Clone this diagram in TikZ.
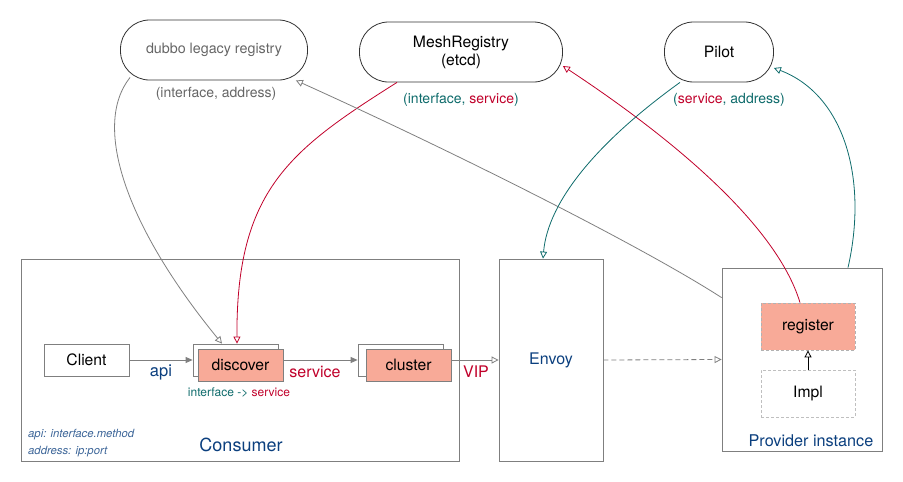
\documentclass[tikz,border=0pt]{standalone}
\usepackage{fontspec}
\setmainfont{TeX Gyre Heros}
\usetikzlibrary{arrows.meta}

\definecolor{linegray}{HTML}{7F7F7F}
\definecolor{textgray}{HTML}{666666}
\definecolor{salmon}{HTML}{F8AA98}
\definecolor{meshred}{HTML}{C0002A}
\definecolor{pilotteal}{HTML}{0E6B6B}
\definecolor{labelblue}{HTML}{0B3F7E}

\tikzset{
	registry/.style={draw=black!80, line width=0.8pt, rounded corners=29pt, minimum height=60, inner sep=0pt, align=center},
	frame/.style={draw=linegray, line width=0.8pt, inner sep=0pt},
	box/.style={draw=linegray, line width=0.8pt, fill=white, minimum width=85, minimum height=32, inner sep=0pt},
	hotbox/.style={box, fill=salmon},
	flow/.style={draw=linegray, line width=0.8pt, -{Triangle[length=7pt,width=6pt,fill=linegray]}},
	opentip/.style={line width=0.8pt, -{Triangle[open,length=7pt,width=7pt]}}
}

\begin{document}
\begin{tikzpicture}[x=1pt, y=-1pt, font=\fontsize{15.7}{18}\selectfont]
\useasboundingbox (0,0) rectangle (903,482);

\node (legacy) at (214,50) [registry, minimum width=187, font=\fontsize{14.3}{16}\selectfont, text=textgray] {dubbo legacy registry};
\node (mesh) at (461,52) [registry, minimum width=203] {MeshRegistry\\(etcd)};
\node (pilot) at (719,52) [registry, minimum width=109] {Pilot};

\node (legacykey) at (216,94) [font=\fontsize{14}{16}\selectfont, text=textgray] {(interface, address)};
\node (meshkey) at (461,100) [font=\fontsize{14}{16}\selectfont, text=pilotteal] {(interface, \textcolor{meshred}{service})};
\node (pilotkey) at (729,100) [font=\fontsize{14}{16}\selectfont, text=pilotteal] {(\textcolor{meshred}{service}, address)};

% consumer side
\node (consumer) at (240,360) [frame, minimum width=438, minimum height=202] {};
	\node (client) at (86.5,360) [box] {Client};
	\node (discback) at (235.5,360) [box] {};
	\node (discover) at (240.5,365) [hotbox] {discover};
	\node (clusterback) at (400.5,360) [box] {};
	\node (cluster) at (408.5,365) [hotbox] {cluster};

	\node (api) at (161,372) [text=labelblue, font=\fontsize{16.5}{18}\selectfont] {api};
	\node (svc) at (315,372) [text=meshred, font=\fontsize{16}{18}\selectfont] {service};
	\node (mapping) at (239,393) [text=pilotteal, font=\fontsize{12}{14}\selectfont] {interface -> \textcolor{meshred}{service}};
	\node (notes) at (28,443) [anchor=west, inner sep=0pt, align=left, text=labelblue!80, font=\itshape\fontsize{11.3}{17}\selectfont] {api: interface.method\\address: ip:port};
	\node (consumerlabel) at (241,445) [text=labelblue, font=\fontsize{18}{20}\selectfont] {Consumer};

\node (vip) at (476,372) [text=meshred, font=\fontsize{16}{18}\selectfont] {VIP};
\node (envoy) at (551,360) [frame, minimum width=104, minimum height=202, text=labelblue, font=\fontsize{16}{18}\selectfont] {Envoy};

% provider side
\node (provider) at (802,359.5) [frame, minimum width=160, minimum height=183] {};
	\node (register) at (808,326.5) [box, fill=salmon, draw=linegray!60, dash pattern=on 3pt off 2pt, minimum width=94, minimum height=47] {register};
	\node (impl) at (808,393.5) [box, draw=linegray!50, dash pattern=on 3pt off 2pt, minimum width=94, minimum height=47] {Impl};
	\node (providerlabel) at (811,441) [text=labelblue, font=\fontsize{16.2}{18}\selectfont] {Provider instance};

\draw[flow] (client.east) -- (discback.west);
\draw[flow] (discover.east |- discback.east) -- (clusterback.west);
\draw[opentip, draw=linegray] (cluster.east |- envoy.west) -- (envoy.west);
\draw[opentip, draw=linegray, dash pattern=on 5pt off 3pt] (envoy.east) -- (provider.west);
\draw[opentip, draw=black] (impl.north) -- (register.south);

% registry links
\draw[opentip, draw=linegray] ([xshift=10pt,yshift=3pt]legacy.south west) .. controls (92,125) and (125,225) .. ([xshift=-13.5pt]discback.north);
\draw[opentip, draw=meshred] ([xshift=-64pt]mesh.south) .. controls (290,150) and (236,190) .. ([xshift=1.5pt]discback.north);
\draw[opentip, draw=linegray] ([yshift=-30pt]provider.north west) .. controls (640,245) and (450,150) .. ([xshift=-12pt]legacy.south east);
\draw[opentip, draw=meshred] ([xshift=-8pt]register.north) .. controls (775,220) and (660,130) .. ([yshift=-14pt]mesh.east);
\draw[opentip, draw=pilotteal] ([xshift=-39pt]pilot.south) .. controls (600,140) and (548,200) .. ([xshift=-8pt]envoy.north);
\draw[opentip, draw=pilotteal] ([xshift=46pt]provider.north) .. controls (868,180) and (845,95) .. ([yshift=-16pt]pilot.east);

\end{tikzpicture}
\end{document}
